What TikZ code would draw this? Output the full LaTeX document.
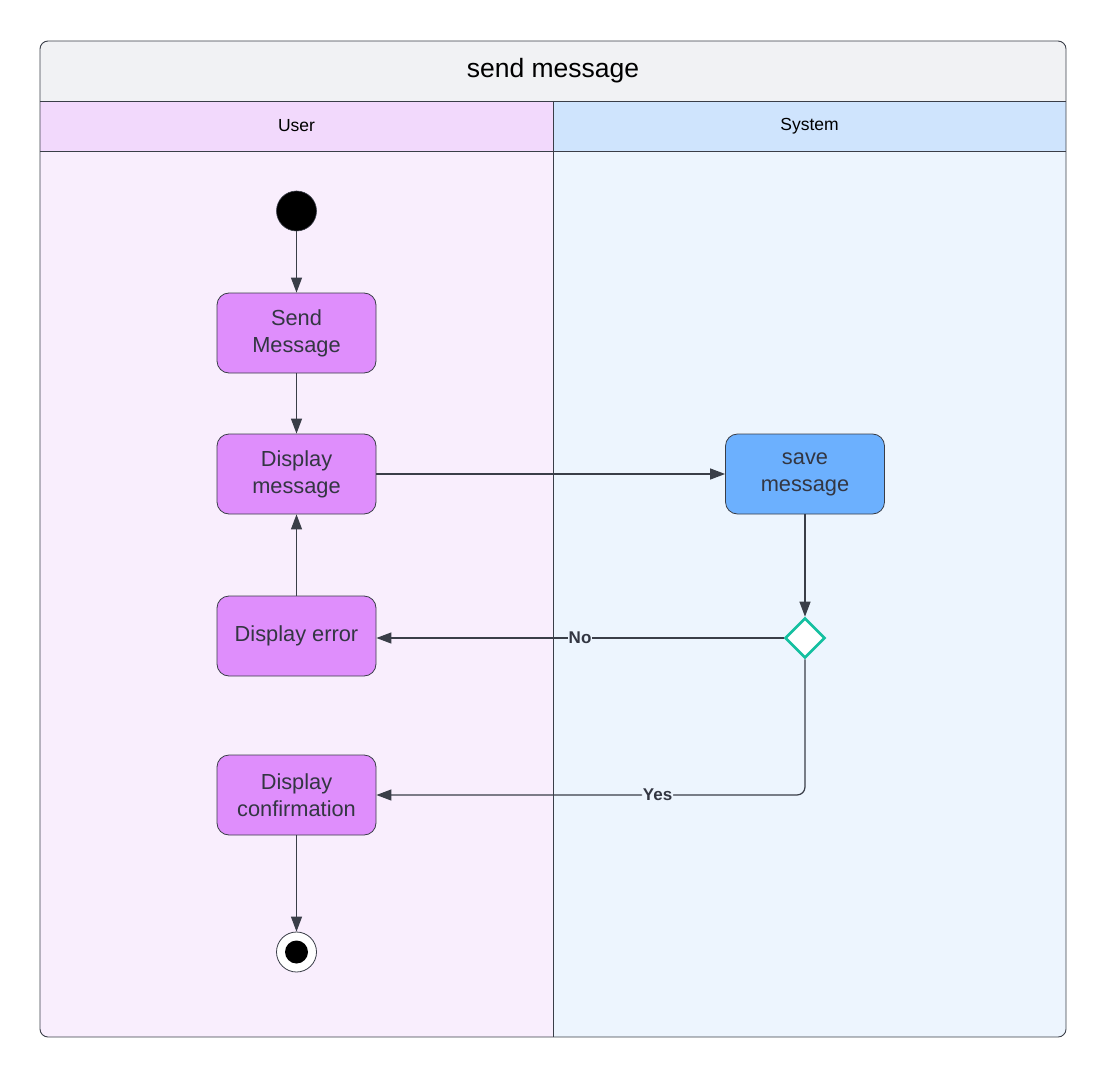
\documentclass[tikz,border=0pt]{standalone}
\usepackage{fontspec}
\setmainfont{Liberation Sans}
\usetikzlibrary{arrows.meta,shapes.geometric}

\definecolor{frameline}{RGB}{58,62,72}
\definecolor{titlebg}{RGB}{241,242,244}
\definecolor{userhead}{RGB}{242,217,252}
\definecolor{userbody}{RGB}{249,238,253}
\definecolor{syshead}{RGB}{207,228,253}
\definecolor{sysbody}{RGB}{237,245,254}
\definecolor{actpurple}{RGB}{223,142,252}
\definecolor{actblue}{RGB}{108,176,254}
\definecolor{decteal}{RGB}{20,192,160}
\definecolor{txt}{RGB}{51,54,66}

\tikzset{
  action/.style={draw=frameline, line width=0.8pt, rounded corners=12pt,
    minimum width=159pt, minimum height=80pt, align=center, text=txt,
    font=\fontsize{21.8}{27}\selectfont},
  useract/.style={action, fill=actpurple},
  sysact/.style={action, fill=actblue},
  flow/.style={draw=frameline, line width=1.2pt,
    -{Triangle[length=15pt,width=11pt]}},
  guard/.style={font=\bfseries\fontsize{17}{18}\selectfont, text=txt,
    inner sep=1pt}
}

\begin{document}
\begin{tikzpicture}[x=1pt,y=-1pt]
\useasboundingbox (0,0) rectangle (1108,1078);

% swimlane bands
\begin{scope}
  \clip[rounded corners=8pt] (40,41) rectangle (1066,1037);
  \fill[titlebg] (40,41) rectangle (1066,101);
  \fill[userhead] (40,101) rectangle (553,151);
  \fill[syshead] (553,101) rectangle (1066,151);
  \fill[userbody] (40,151) rectangle (553,1037);
  \fill[sysbody] (553,151) rectangle (1066,1037);
\end{scope}
\draw[frameline, line width=0.8pt] (40,101) -- (1066,101);
\draw[frameline, line width=0.8pt] (40,151) -- (1066,151);
\draw[frameline, line width=0.8pt] (553,101) -- (553,1037);
\draw[frameline, line width=0.9pt, rounded corners=8pt] (40,41) rectangle (1066,1037);

\node[font=\fontsize{26.5}{30}\selectfont, text=black] (title) at (553,71) {send message};
\node[font=\fontsize{17.5}{20}\selectfont, text=black] (laneuser) at (296.5,126) {User};
\node[font=\fontsize{17.5}{20}\selectfont, text=black] (lanesys) at (809.5,126) {System};

% activity nodes
\node[circle, fill=black, draw=frameline, line width=0.6pt, minimum size=40pt, inner sep=0pt] (start) at (296.5,211) {};
\node[useract] (send) at (296.5,333) {Send\\Message};
\node[useract] (disp) at (296.5,474) {Display\\message};
\node[useract] (err) at (296.5,636) {Display error};
\node[useract] (conf) at (296.5,795) {Display\\confirmation};
\node[circle, fill=white, draw=frameline, line width=0.8pt, minimum size=40pt, inner sep=0pt] (stop) at (296.5,952) {};
\node[circle, fill=black, minimum size=23pt, inner sep=0pt] (stopdot) at (stop.center) {};

\node[sysact] (save) at (805,474) {save\\message};
\node[diamond, draw=decteal, fill=white, line width=2.6pt, minimum width=40pt, minimum height=40pt, inner sep=0pt] (dec) at (805,638) {};

% control flow
\draw[flow] (start) -- (send);
\draw[flow] (send) -- (disp);
\draw[flow] (err) -- (disp);
\draw[flow] (disp) -- (save);
\draw[flow] (save) -- (dec);
\draw[flow] (dec.west) -- node[guard, fill=sysbody, pos=0.5] {No} (dec.west -| err.east);
\draw[flow, rounded corners=8pt] (dec.south) |- node[guard, fill=sysbody, pos=0.672] {Yes} (conf.east);
\draw[flow] (conf) -- (stop);
\end{tikzpicture}
\end{document}
